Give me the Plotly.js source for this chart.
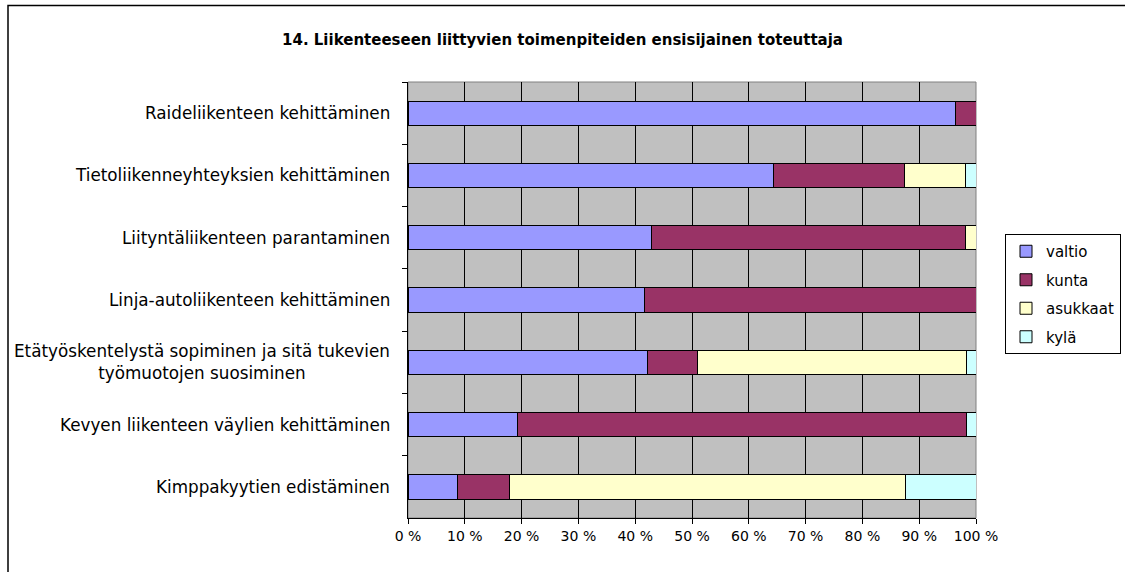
<!DOCTYPE html>
<html>
<head>
<meta charset="utf-8">
<script src="https://cdn.plot.ly/plotly-3.0.1.min.js"></script>
<style>html,body{margin:0;padding:0;background:#fff;}#chart{width:1125px;height:572px;}</style>
</head>
<body>
<div id="chart"></div>
<script>
const categories = [
  "Raideliikenteen kehittäminen",
  "Tietoliikenneyhteyksien kehittäminen",
  "Liityntäliikenteen parantaminen",
  "Linja-autoliikenteen kehittäminen",
  "Etätyöskentelystä sopiminen ja sitä tukevien<br>työmuotojen suosiminen",
  "Kevyen liikenteen väylien kehittäminen",
  "Kimppakyytien edistäminen"
];
const valtio   = [96.4, 64.3, 42.8, 41.7, 42.2, 19.3, 8.8];
const kunta    = [3.6, 23.1, 55.3, 58.3, 8.7, 79.0, 9.1];
const asukkaat = [0, 10.7, 1.9, 0, 47.4, 0, 69.6];
const kyla     = [0, 1.9, 0, 0, 1.7, 1.7, 12.5];
const seriesNames = ["valtio", "kunta", "asukkaat", "kylä"];
const seriesColors = ["#9999FF", "#993366", "#FFFFCC", "#CCFFFF"];
const xTickVals = [0,10,20,30,40,50,60,70,80,90,100];
const xTickText = ["0 %","10 %","20 %","30 %","40 %","50 %","60 %","70 %","80 %","90 %","100 %"];
const titleText = "14. Liikenteeseen liittyvien toimenpiteiden ensisijainen toteuttaja";

const FONT = "DejaVu Sans, Verdana, sans-serif";
const allSeries = [valtio, kunta, asukkaat, kyla];
const traces = allSeries.map((vals, i) => ({
  type: "bar",
  orientation: "h",
  name: seriesNames[i],
  legendgroup: seriesNames[i],
  x: vals,
  y: categories,
  marker: {color: seriesColors[i], line: {color: "#000", width: 1}},
  hoverinfo: "x+name"
}));

const annotations = categories.map(c => ({
  xref: "paper", yref: "y", x: 0, y: c,
  xanchor: "right", yanchor: "middle", xshift: -16,
  text: c, showarrow: false, align: "center",
  font: {family: FONT, size: 16.8, color: "#000"}
}));

const layout = {
  width: 1125, height: 572,
  margin: {l: 408, r: 149, t: 82, b: 54, autoexpand: false},
  paper_bgcolor: "#fff",
  plot_bgcolor: "#C0C0C0",
  barmode: "stack",
  bargap: 0.61,
  showlegend: true,
  title: {text: "<b>" + titleText + "</b>", x: 0.5, xref: "container", y: 1 - 40/572, yref: "container", yanchor: "middle",
          font: {family: FONT, size: 15, color: "#000"}},
  xaxis: {
    range: [0, 100], tickvals: xTickVals, ticktext: xTickText,
    showgrid: true, gridcolor: "#000", gridwidth: 1,
    ticks: "outside", ticklen: 5, tickcolor: "#000",
    showline: true, linecolor: "#000", linewidth: 1,
    zeroline: false, fixedrange: true, automargin: false,
    tickfont: {family: FONT, size: 14, color: "#000"}
  },
  yaxis: {
    type: "category", autorange: "reversed", automargin: false,
    showticklabels: false, ticks: "outside", tickson: "boundaries", ticklen: 5, tickcolor: "#000",
    showgrid: false, showline: true, linecolor: "#000", linewidth: 1, fixedrange: true
  },
  legend: {
    x: (1005-408)/568, y: (518-234)/436, xanchor: "left", yanchor: "top",
    bgcolor: "#fff", bordercolor: "#000", borderwidth: 1,
    traceorder: "grouped", tracegroupgap: 6,
    font: {family: FONT, size: 15, color: "#000"},
    itemwidth: 30
  },
  annotations: annotations,
  shapes: [
    {type: "rect", xref: "paper", yref: "paper", x0: 0, x1: 1, y0: 0, y1: 1,
     line: {color: "#808080", width: 1}, layer: "below"},
    {type: "rect", xref: "paper", yref: "paper", x0: (8-408)/568, x1: 1.4, y0: -0.3, y1: (518-5.5)/436,
     line: {color: "#000", width: 1.5}, fillcolor: "rgba(0,0,0,0)"}
  ]
};

Plotly.newPlot("chart", traces, layout, {displayModeBar: false, staticPlot: true});
</script>
</body>
</html>
